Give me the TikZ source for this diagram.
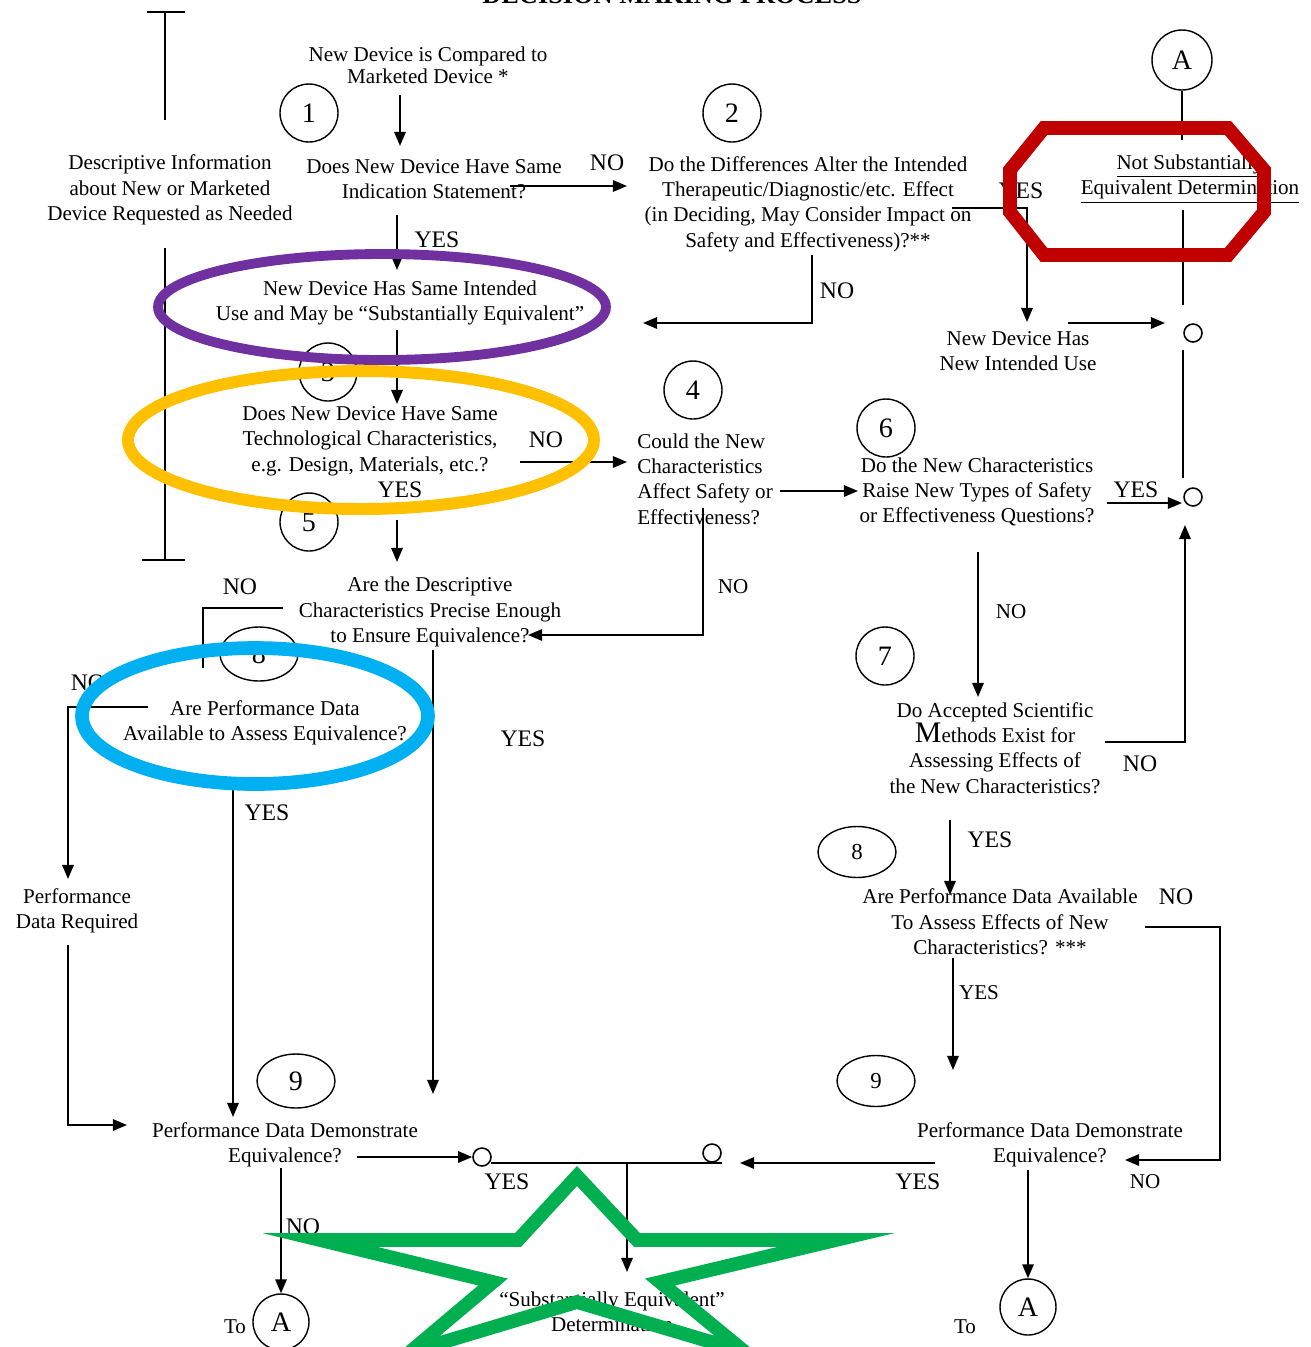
\documentclass[tikz,border=0pt]{standalone}
\usepackage{fontspec}
\setmainfont{Liberation Serif}
\usetikzlibrary{arrows.meta,shapes.geometric}
\definecolor{hlpurple}{HTML}{7030A0}
\definecolor{hlyellow}{HTML}{FFC000}
\definecolor{hlblue}{HTML}{00B0F0}
\definecolor{hlred}{HTML}{C00000}
\definecolor{hlgreen}{HTML}{00B050}
\begin{document}
\begin{tikzpicture}[x=0.02cm,y=-0.02cm,
 txt/.style={align=center,inner sep=0pt,font=\fontsize{12}{14.4}\selectfont},
 lbl/.style={inner sep=0pt,font=\fontsize{13.5}{16}\selectfont},
 num/.style={draw,circle,line width=0.8pt,minimum size=1.16cm,inner sep=0pt,font=\fontsize{16}{16}\selectfont},
 oval/.style={draw,ellipse,line width=0.8pt,minimum width=1.56cm,minimum height=1.08cm,inner sep=0pt,font=\fontsize{16}{16}\selectfont},
 jn/.style={draw,circle,line width=0.9pt,minimum size=0.36cm,inner sep=0pt},
 conn/.style={line width=1pt},
 arr/.style={conn,-{Triangle[length=8pt,width=6.5pt]}},
 hl/.style={line width=#1,line join=miter,miter limit=20},
]
\useasboundingbox (0,0) rectangle (1311,1347);

% title (cut at the top edge, as in the reference)
\node[anchor=base,inner sep=0pt,font=\bfseries\fontsize{15}{15}\selectfont] (title) at (672,3) {DECISION MAKING PROCESS};

% left bracket and descriptive information
\node[txt] (desc) at (170,190) {Descriptive Information\\about New or Marketed\\Device Requested as Needed};
\draw[conn] (147,12) -- (185,12) (165,12) -- (165,120);
\draw[conn] (165,248) -- (165,560) (142,560) -- (185,560);

% text nodes
\node[txt,font=\fontsize{12}{12.6}\selectfont] (cmp) at (428,65) {New Device is Compared to\\Marketed Device *};
\node[txt] (q1) at (434,179) {Does New Device Have Same\\Indication Statement?};
\node[txt] (q2) at (808,204) {Do the Differences Alter the Intended\\Therapeutic/Diagnostic/etc. Effect\\(in Deciding, May Consider Impact on\\Safety and Effectiveness)?**};
\node[txt] (nse) at (1190,179) {\underline{Not Substantially}\\\underline{Equivalent Determination}};
\node[txt] (nuse) at (1018,351) {New Device Has\\New Intended Use};
\node[txt] (same) at (400,303) {New Device Has Same Intended\\Use and May be “Substantially Equivalent”};
\node[txt] (q3) at (370,441) {Does New Device Have Same\\Technological Characteristics,\\e.g. Design, Materials, etc.?};
\node[txt,align=left,anchor=west] (q4) at (637,479) {Could the New\\Characteristics\\Affect Safety or\\Effectiveness?};
\node[txt] (q6) at (977,492) {Do the New Characteristics\\Raise New Types of Safety\\or Effectiveness Questions?};
\node[txt] (q5) at (430,612) {Are the Descriptive\\Characteristics Precise Enough\\to Ensure Equivalence?};
\node[txt] (q7) at (995,748) {Do Accepted Scientific\\{\fontsize{17}{17}\selectfont M}ethods Exist for\\Assessing Effects of\\the New Characteristics?};
\node[txt] (q8r) at (1000,922) {Are Performance Data Available\\To Assess Effects of New\\Characteristics? ***};
\node[txt] (q8l) at (265,723) {Are Performance Data\\Available to Assess Equivalence?};
\node[txt] (pdr) at (77,911) {Performance\\Data Required};
\node[txt] (q9l) at (285,1145) {Performance Data Demonstrate\\Equivalence?};
\node[txt] (q9r) at (1050,1145) {Performance Data Demonstrate\\Equivalence?};
\node[txt] (se) at (612,1312) {“Substantially Equivalent”\\Determination};
\node[txt] (tol) at (235,1327) {To};
\node[txt] (tor) at (965,1327) {To};

% numbered circles
\node[num] (n1) at (309,113) {1};
\node[num] (n2) at (732,113) {2};
\node[num] (n3) at (328,372) {3};
\node[num] (n4) at (693,390) {4};
\node[num] (n5) at (309,522) {5};
\node[num] (n6) at (886,428) {6};
\node[num] (n7) at (885,656) {7};
\node[oval] (n8l) at (259,654) {8};
\node[oval,minimum height=1.02cm,font=\fontsize{13}{13}\selectfont] (n8r) at (857,852) {8};
\node[oval] (n9l) at (296,1081) {9};
\node[oval,minimum height=1.02cm,font=\fontsize{13}{13}\selectfont] (n9r) at (876,1081) {9};
\node[num,minimum size=1.2cm] (At) at (1182,60) {A};
\node[num,minimum size=1.12cm] (Al) at (281,1322) {A};
\node[num,minimum size=1.12cm] (Ar) at (1028,1307) {A};

% junction circles
\node[jn] (j1) at (1193,333) {};
\node[jn] (j2) at (1193,497) {};
\node[jn] (jl) at (482,1157) {};
\node[jn] (jr) at (712,1153) {};

% connector end points
\coordinate (c1a) at (400,95);   \coordinate (c1b) at (400,146);
\coordinate (c2a) at (510,186);  \coordinate (c2b) at (627,186);
\coordinate (c3a) at (397,215);  \coordinate (c3b) at (397,270);
\coordinate (c4a) at (952,208);  \coordinate (c4m) at (1027,208); \coordinate (c4b) at (1027,322);
\coordinate (c5a) at (812,255);  \coordinate (c5m) at (812,323);  \coordinate (c5b) at (643,323);
\coordinate (c6a) at (1068,323); \coordinate (c6b) at (1165,323);
\coordinate (c7a) at (1182,140); \coordinate (c7b) at (1183,210); \coordinate (c7c) at (1183,305);
\coordinate (c8a) at (1183,350); \coordinate (c8b) at (1183,478);
\coordinate (c9a) at (1107,503); \coordinate (c9b) at (1182,503);
\coordinate (c10a) at (1105,742); \coordinate (c10m) at (1185,742); \coordinate (c10b) at (1185,525);
\coordinate (c11a) at (397,330); \coordinate (c11b) at (397,404);
\coordinate (c12a) at (520,462); \coordinate (c12b) at (627,462);
\coordinate (c13a) at (397,520); \coordinate (c13b) at (397,562);
\coordinate (c14a) at (780,491); \coordinate (c14b) at (858,491);
\coordinate (c15a) at (703,508); \coordinate (c15m) at (703,635); \coordinate (c15b) at (528,635);
\coordinate (c16a) at (978,552); \coordinate (c16b) at (978,697);
\coordinate (c17a) at (950,820); \coordinate (c17b) at (950,895);
\coordinate (c18a) at (1145,927); \coordinate (c18m) at (1220,927); \coordinate (c18n) at (1220,1160); \coordinate (c18b) at (1125,1160);
\coordinate (c19a) at (953,958); \coordinate (c19b) at (953,1070);
\coordinate (c20a) at (935,1163); \coordinate (c20b) at (740,1163);
\coordinate (c21a) at (1028,1170);
\coordinate (c22a) at (283,608); \coordinate (c22m) at (203,608); \coordinate (c22b) at (203,668);
\coordinate (c23a) at (148,707); \coordinate (c23m) at (68,707); \coordinate (c23b) at (68,879);
\coordinate (c24a) at (68,945); \coordinate (c24m) at (68,1125); \coordinate (c24b) at (127,1125);
\coordinate (c25a) at (233,790); \coordinate (c25b) at (233,1117);
\coordinate (c26a) at (433,650); \coordinate (c26b) at (433,1094);
\coordinate (c27a) at (357,1157);
\coordinate (c28a) at (491,1163); \coordinate (c28b) at (722,1163);
\coordinate (c29a) at (627,1163); \coordinate (c29b) at (627,1272);
\coordinate (c30a) at (281,1168);

% connectors
\draw[arr] (c1a) -- (c1b);
\draw[arr] (c2a) -- (c2b);
\draw[arr] (c3a) -- (c3b);
\draw[arr] (c4a) -- (c4m) -- (c4b);
\draw[arr] (c5a) -- (c5m) -- (c5b);
\draw[arr] (c6a) -- (c6b);
\draw[conn] (At) -- (c7a);
\draw[conn] (c7b) -- (c7c);
\draw[conn] (c8a) -- (c8b);
\draw[arr] (c9a) -- (c9b);
\draw[arr] (c10a) -- (c10m) -- (c10b);
\draw[arr] (c11a) -- (c11b);
\draw[arr] (c12a) -- (c12b);
\draw[arr] (c13a) -- (c13b);
\draw[arr] (c14a) -- (c14b);
\draw[arr] (c15a) -- (c15m) -- (c15b);
\draw[arr] (c16a) -- (c16b);
\draw[arr] (c17a) -- (c17b);
\draw[arr] (c18a) -- (c18m) -- (c18n) -- (c18b);
\draw[arr] (c19a) -- (c19b);
\draw[arr] (c20a) -- (c20b);
\draw[arr] (c21a) -- (Ar.north);
\draw[conn] (c22a) -- (c22m) -- (c22b);
\draw[arr] (c23a) -- (c23m) -- (c23b);
\draw[arr] (c24a) -- (c24m) -- (c24b);
\draw[arr] (c25a) -- (c25b);
\draw[arr] (c26a) -- (c26b);
\draw[arr] (c27a) -- (jl.west);
\draw[conn] (c28a) -- (c28b);
\draw[arr] (c29a) -- (c29b);
\draw[arr] (c30a) -- (Al.north);

% YES / NO labels
\node[lbl] (l1) at (607,163) {NO};
\node[lbl] (l2) at (437,240) {YES};
\node[lbl] (l3) at (1021,191) {YES};
\node[lbl] (l4) at (837,291) {NO};
\node[lbl] (l5) at (546,440) {NO};
\node[lbl] (l6) at (400,490) {YES};
\node[lbl] (l7) at (1136,490) {YES};
\node[lbl,font=\fontsize{12}{14}\selectfont] (l8) at (733,587) {NO};
\node[lbl,font=\fontsize{12}{14}\selectfont] (l9) at (1011,612) {NO};
\node[lbl] (l10) at (240,587) {NO};
\node[lbl] (l11) at (88,683) {NO};
\node[lbl] (l12) at (523,739) {YES};
\node[lbl] (l13) at (1140,764) {NO};
\node[lbl] (l14) at (267,813) {YES};
\node[lbl] (l15) at (990,840) {YES};
\node[lbl] (l16) at (1176,897) {NO};
\node[lbl,font=\fontsize{12}{14}\selectfont] (l17) at (979,993) {YES};
\node[lbl] (l18) at (507,1182) {YES};
\node[lbl] (l19) at (918,1182) {YES};
\node[lbl,font=\fontsize{12}{14}\selectfont] (l20) at (1145,1182) {NO};
\node[lbl] (l21) at (303,1227) {NO};

% highlight marks
\draw[hl=5.6pt,draw=hlpurple] (382,307) ellipse [x radius=4.48cm, y radius=1.06cm];
\draw[hl=6.8pt,draw=hlyellow] (361,440) ellipse [x radius=4.66cm, y radius=1.38cm];
\draw[hl=7.8pt,draw=hlblue] (255,716) ellipse [x radius=3.46cm, y radius=1.36cm];
\draw[hl=7.8pt,draw=hlred] (1044,128) -- (1228,128) -- (1264,170) -- (1264,212) -- (1228,255) -- (1044,255) -- (1010,212) -- (1010,170) -- cycle;
\draw[hl=7.8pt,draw=hlgreen] (577,1176) -- (637,1240) -- (836,1240) -- (660,1282) -- (745,1352) -- (577,1302) -- (410,1352) -- (493,1282) -- (320,1240) -- (518,1240) -- cycle;
\end{tikzpicture}
\end{document}
